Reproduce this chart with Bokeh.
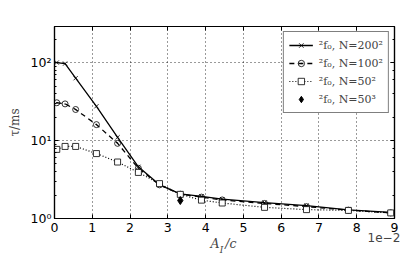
from bokeh.plotting import figure
from bokeh.models import (LogAxis, LinearAxis, FixedTicker, Legend, LegendItem,
                          CustomJSTickFormatter, Range1d, LogTicker)
from bokeh.embed import file_html
from bokeh.resources import INLINE

# data (x in units of 1e-2)
x_vals = [0.06, 0.28, 0.56, 1.11, 1.67, 2.22, 2.78, 3.33, 3.89, 4.44, 5.56, 6.67, 7.78, 8.9]
tau_200 = [100, 97, 63, 27.5, 11, 4.6, 2.7, 2.07, 1.92, 1.77, 1.6, 1.46, 1.29, 1.2]
tau_100 = [30.5, 29.5, 25, 16, 9.2, 4.4, 2.7, 2.05, 1.88, 1.73, 1.56, 1.42, 1.28, 1.18]
tau_50 = [7.7, 8.4, 8.4, 6.8, 5.3, 3.9, 2.8, 2.04, 1.72, 1.58, 1.39, 1.3, 1.27, 1.18]
x_503 = [3.33]
tau_503 = [1.7]
x_ticks = [0, 1, 2, 3, 4, 5, 6, 7, 8, 9]
labels = ["²f₀, N=200²", "²f₀, N=100²", "²f₀, N=50²", "²f₀, N=50³"]
offset_text = "1e\u22122"
xlabel_parts = ["A", "I", "/c"]

p = figure(width=413, height=257, y_axis_type="log", output_backend="svg",
           toolbar_location=None, x_range=Range1d(0, 9), y_range=Range1d(1, 290),
           min_border_left=54, min_border_right=19, min_border_top=26, min_border_bottom=39)
p.background_fill_color = "white"
p.border_fill_color = "white"
p.outline_line_color = "black"
p.outline_line_width = 1.2

sup = CustomJSTickFormatter(code="""
const s = {"0":"\u2070","1":"\u00b9","2":"\u00b2","3":"\u00b3"};
return "10" + s[String(Math.round(Math.log10(tick)))];
""")

def style_axis(ax, show_labels=True):
    ax.axis_line_color = "black"
    ax.axis_line_width = 1.2
    ax.major_tick_in = 4
    ax.major_tick_out = 0
    ax.minor_tick_in = 2
    ax.minor_tick_out = 0
    ax.major_tick_line_color = "black"
    ax.minor_tick_line_color = "black"
    ax.major_label_text_font = "DejaVu Sans"
    ax.major_label_text_font_size = "12.5px"
    ax.major_label_text_color = "black"
    if not show_labels:
        ax.major_label_text_alpha = 0
        ax.major_label_text_font_size = "0px"

def text_axis(ticks, texts, font, style, size, standoff):
    ax = LinearAxis(ticker=FixedTicker(ticks=ticks, minor_ticks=[]),
                    major_label_overrides={t: s for t, s in zip(ticks, texts)})
    ax.axis_line_color = None
    ax.major_tick_line_color = None
    ax.minor_tick_line_color = None
    ax.major_tick_in = 0
    ax.major_tick_out = 0
    ax.minor_tick_in = 0
    ax.minor_tick_out = 0
    ax.major_label_text_font = font
    ax.major_label_text_font_style = style
    ax.major_label_text_font_size = size
    ax.major_label_standoff = standoff
    p.add_layout(ax, "below")
    return ax

xa = p.xaxis[0]
xa.ticker = FixedTicker(ticks=x_ticks, minor_ticks=[])
style_axis(xa)
xa.major_label_standoff = 4
ya = p.yaxis[0]
ya.formatter = sup
style_axis(ya)
ya.major_label_standoff = 3
ya.axis_label = "τ/ms"
ya.axis_label_text_font = "DejaVu Serif"
ya.axis_label_text_font_style = "normal"
ya.axis_label_text_font_size = "12px"
ya.axis_label_standoff = 6

# offset text and x-axis label as extra label rows below the axis
text_axis([8.72], [offset_text], "DejaVu Sans", "normal", "12px", -2)
text_axis([4.25, 4.67], [xlabel_parts[0], xlabel_parts[2]], "DejaVu Serif", "italic", "12.5px", -9)
text_axis([4.42], [xlabel_parts[1]], "DejaVu Serif", "italic", "9px", -9)

top = LinearAxis(ticker=FixedTicker(ticks=x_ticks, minor_ticks=[]))
style_axis(top, False)
p.add_layout(top, "above")
right = LogAxis(ticker=LogTicker())
style_axis(right, False)
p.add_layout(right, "right")

p.xgrid.ticker = FixedTicker(ticks=x_ticks)
for g in (p.xgrid, p.ygrid):
    g.grid_line_color = "black"
    g.grid_line_dash = "1 3"
    g.grid_line_width = 0.8
p.ygrid.minor_grid_line_color = None

r1l = p.line(x_vals, tau_200, line_color="black", line_width=1.3)
r1m = p.scatter(x_vals, tau_200, marker="x", size=6, line_color="black", line_width=0.8)
r2l = p.line(x_vals, tau_100, line_color="black", line_width=1.3, line_dash="5 4")
r2m = p.scatter(x_vals, tau_100, marker="circle_dot", size=6, line_color="black",
                fill_color=None, line_width=0.8)
r3l = p.line(x_vals, tau_50, line_color="black", line_width=1.2, line_dash="1 2")
r3m = p.scatter(x_vals, tau_50, marker="square", size=6, line_color="black",
                fill_color="white", line_width=0.8)
r4m = p.scatter(x_503, tau_503, marker="diamond", size=8, line_color="black",
                fill_color="black")

legend = Legend(items=[LegendItem(label=labels[0], renderers=[r1l, r1m]),
                       LegendItem(label=labels[1], renderers=[r2l, r2m]),
                       LegendItem(label=labels[2], renderers=[r3l, r3m]),
                       LegendItem(label=labels[3], renderers=[r4m])],
                location="top_right")
legend.margin = 5
legend.padding = 5
legend.spacing = 2
legend.label_height = 16
legend.glyph_height = 16
legend.glyph_width = 24
legend.label_standoff = 6
legend.label_text_font = "DejaVu Serif"
legend.label_text_font_size = "11px"
legend.border_line_color = "black"
legend.border_line_width = 1
legend.background_fill_color = "white"
legend.background_fill_alpha = 1
p.add_layout(legend)

open("out.html", "w").write(file_html(p, INLINE))
